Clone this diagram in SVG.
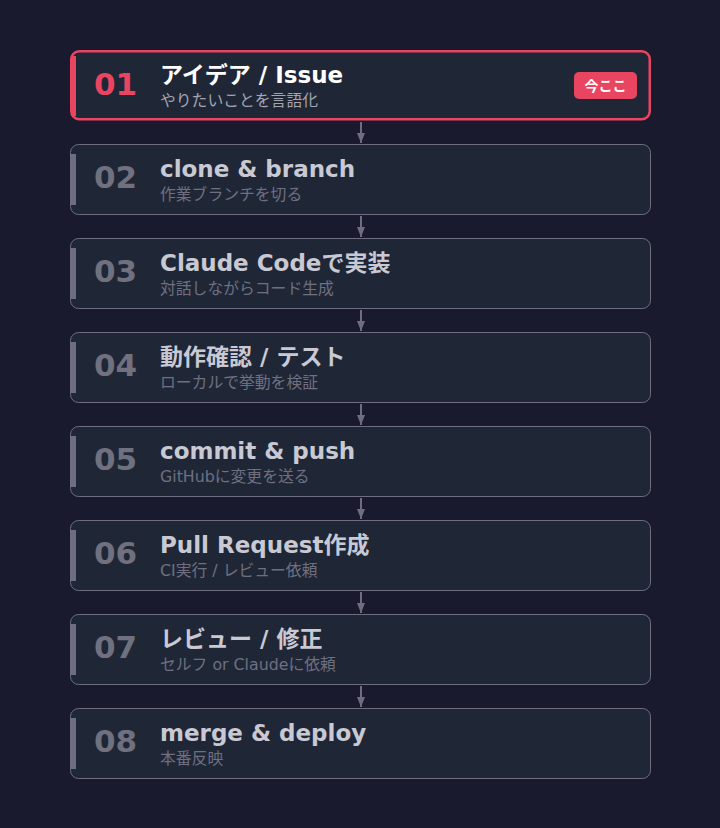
<svg xmlns="http://www.w3.org/2000/svg" width="720" height="828" viewBox="0 0 720 828">
<defs>
<style>
.box{fill:#1f2737;stroke:#6e6e80;stroke-width:1}
.box.cur{stroke:#e94560;stroke-width:2.5}
.bar{fill:#6e6e80}
.bar.cur{fill:#e94560}
.num{font-family:"DejaVu Sans","Noto Sans CJK JP",sans-serif;font-weight:700;font-size:31px;fill:#70707f}
.num.cur{fill:#e94560}
.ttl{font-family:"DejaVu Sans","Noto Sans CJK JP",sans-serif;font-weight:700;font-size:23px;fill:#c9c9d4}
.ttl.cur{fill:#ffffff}
.sub{font-family:"DejaVu Sans","Noto Sans CJK JP",sans-serif;font-size:15.8px;fill:#6f6f80}
.sub.cur{fill:#a4a4b2}
.conn{stroke:#6e6e80;stroke-width:2;fill:none}
.badge{fill:#e94560}
.btxt{font-family:"Noto Sans CJK JP",sans-serif;font-weight:700;font-size:14px;fill:#ffffff;text-anchor:middle}
</style>
<marker id="ah" viewBox="0 0 10 8" refX="10" refY="4" markerWidth="10" markerHeight="8" markerUnits="userSpaceOnUse" orient="auto">
<path d="M0,0 L10,4 L0,8 Z" fill="#6e6e80"/>
</marker>
</defs>
<rect width="720" height="828" fill="#1a1a2e"/>
<g id="connectors">
<line class="conn" x1="361" y1="122" x2="361" y2="143" marker-end="url(#ah)"/>
<line class="conn" x1="361" y1="216" x2="361" y2="237" marker-end="url(#ah)"/>
<line class="conn" x1="361" y1="310" x2="361" y2="331" marker-end="url(#ah)"/>
<line class="conn" x1="361" y1="404" x2="361" y2="425" marker-end="url(#ah)"/>
<line class="conn" x1="361" y1="498" x2="361" y2="519" marker-end="url(#ah)"/>
<line class="conn" x1="361" y1="592" x2="361" y2="613" marker-end="url(#ah)"/>
<line class="conn" x1="361" y1="686" x2="361" y2="707" marker-end="url(#ah)"/>
</g>
<g id="step01">
<rect class="box cur" x="71.25" y="51.25" width="578.5" height="68" rx="8"/>
<rect class="bar cur" x="71" y="56" width="5" height="60"/>
<text class="num cur" x="94" y="95">01</text>
<text class="ttl cur" x="160" y="83">アイデア / Issue</text>
<text class="sub cur" x="160" y="106">やりたいことを言語化</text>
<rect class="badge" x="574" y="72" width="63" height="27" rx="5"/>
<text class="btxt" x="605.5" y="90.5">今ここ</text>
</g>
<g id="step02">
<rect class="box" x="70.5" y="144.5" width="580" height="70" rx="8"/>
<rect class="bar" x="71" y="154" width="5" height="51"/>
<text class="num" x="94" y="188">02</text>
<text class="ttl" x="160" y="177">clone &amp; branch</text>
<text class="sub" x="160" y="200">作業ブランチを切る</text>
</g>
<g id="step03">
<rect class="box" x="70.5" y="238.5" width="580" height="70" rx="8"/>
<rect class="bar" x="71" y="248" width="5" height="51"/>
<text class="num" x="94" y="282">03</text>
<text class="ttl" x="160" y="271">Claude Codeで実装</text>
<text class="sub" x="160" y="294">対話しながらコード生成</text>
</g>
<g id="step04">
<rect class="box" x="70.5" y="332.5" width="580" height="70" rx="8"/>
<rect class="bar" x="71" y="342" width="5" height="51"/>
<text class="num" x="94" y="376">04</text>
<text class="ttl" x="160" y="365">動作確認 / テスト</text>
<text class="sub" x="160" y="388">ローカルで挙動を検証</text>
</g>
<g id="step05">
<rect class="box" x="70.5" y="426.5" width="580" height="70" rx="8"/>
<rect class="bar" x="71" y="436" width="5" height="51"/>
<text class="num" x="94" y="470">05</text>
<text class="ttl" x="160" y="459">commit &amp; push</text>
<text class="sub" x="160" y="482">GitHubに変更を送る</text>
</g>
<g id="step06">
<rect class="box" x="70.5" y="520.5" width="580" height="70" rx="8"/>
<rect class="bar" x="71" y="530" width="5" height="51"/>
<text class="num" x="94" y="564">06</text>
<text class="ttl" x="160" y="553">Pull Request作成</text>
<text class="sub" x="160" y="576">CI実行 / レビュー依頼</text>
</g>
<g id="step07">
<rect class="box" x="70.5" y="614.5" width="580" height="70" rx="8"/>
<rect class="bar" x="71" y="624" width="5" height="51"/>
<text class="num" x="94" y="658">07</text>
<text class="ttl" x="160" y="647">レビュー / 修正</text>
<text class="sub" x="160" y="670">セルフ or Claudeに依頼</text>
</g>
<g id="step08">
<rect class="box" x="70.5" y="708.5" width="580" height="70" rx="8"/>
<rect class="bar" x="71" y="718" width="5" height="51"/>
<text class="num" x="94" y="752">08</text>
<text class="ttl" x="160" y="741">merge &amp; deploy</text>
<text class="sub" x="160" y="764">本番反映</text>
</g>
</svg>
